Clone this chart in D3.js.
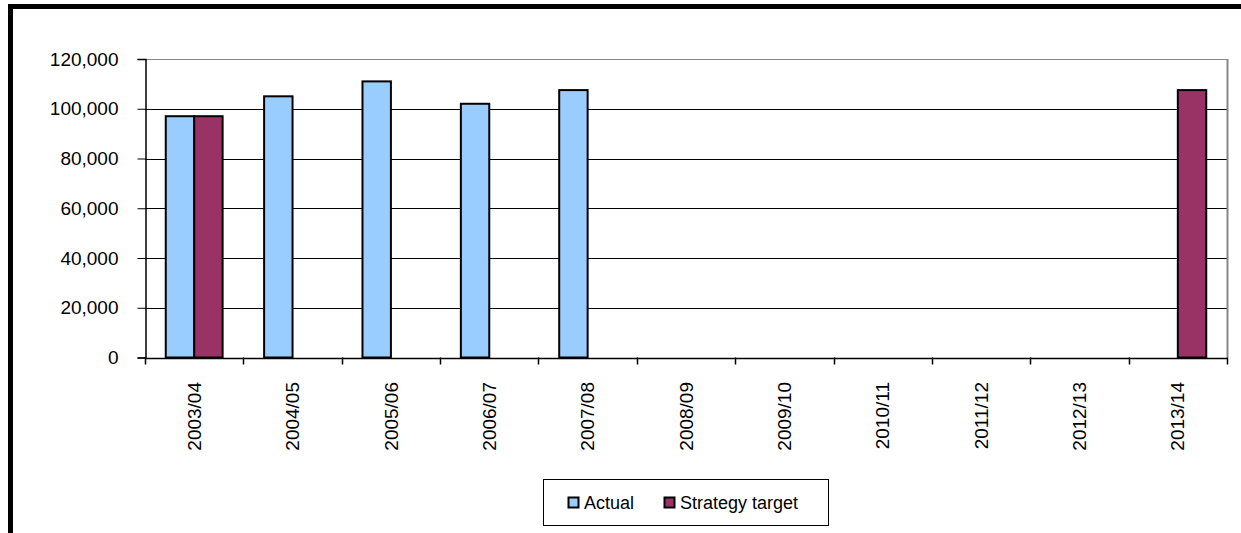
<!DOCTYPE html>
<html>
<head>
<meta charset="utf-8">
<script src="https://cdn.jsdelivr.net/npm/d3@7"></script>
<style>
  html, body { margin: 0; padding: 0; background: #fff; }
  svg { display: block; font-family: "Liberation Sans", Arial, sans-serif; }
</style>
</head>
<body>
<svg id="chart" width="1241" height="533"></svg>
<script>
const categories = ["2003/04", "2004/05", "2005/06", "2006/07", "2007/08", "2008/09", "2009/10", "2010/11", "2011/12", "2012/13", "2013/14"];
const actualValues = [97000, 105000, 111000, 102000, 107500, null, null, null, null, null, null];
const targetValues = [97000, null, null, null, null, null, null, null, null, null, 107500];
const seriesNames = ["Actual", "Strategy target"];
const seriesColors = ["#99CCFF", "#993366"];
const yTicks = [0, 20000, 40000, 60000, 80000, 100000, 120000];

const svg = d3.select("#chart");

// outer frame
svg.append("rect")
  .attr("x", 10.5).attr("y", 6.5)
  .attr("width", 1300).attr("height", 600)
  .attr("fill", "none").attr("stroke", "#000").attr("stroke-width", 5);

const plot = { left: 145, right: 1227, top: 59, bottom: 357.5 };

const x = d3.scaleBand().domain(categories).range([plot.left, plot.right]).paddingInner(0).paddingOuter(0);
const xs = d3.scaleBand().domain(seriesNames).range([0, x.bandwidth()]).paddingInner(0).paddingOuter(0.73);
const y = d3.scaleLinear().domain([0, 120000]).range([plot.bottom, plot.top]);

// gridlines
svg.append("g").selectAll("line").data(yTicks.filter(d => d > 0)).join("line")
  .attr("x1", plot.left).attr("x2", plot.right)
  .attr("y1", d => Math.round(y(d)) + 0.5).attr("y2", d => Math.round(y(d)) + 0.5)
  .attr("stroke", d => d === 120000 ? "#888" : "#000").attr("stroke-width", 1);

// right plot border
svg.append("line")
  .attr("x1", plot.right + 0.5).attr("x2", plot.right + 0.5)
  .attr("y1", plot.top).attr("y2", plot.bottom)
  .attr("stroke", "#888").attr("stroke-width", 2);

// bars
const rows = categories.map((c, i) => ({ c, vals: [actualValues[i], targetValues[i]] }));
const groups = svg.append("g").selectAll("g").data(rows).join("g")
  .attr("transform", d => `translate(${x(d.c)},0)`);
groups.selectAll("rect")
  .data(d => d.vals.map((v, j) => ({ v, name: seriesNames[j], color: seriesColors[j] })).filter(e => e.v != null))
  .join("rect")
  .attr("x", d => xs(d.name))
  .attr("width", xs.bandwidth())
  .attr("y", d => y(d.v))
  .attr("height", d => y(0) - y(d.v))
  .attr("fill", d => d.color)
  .attr("stroke", "#000").attr("stroke-width", 2);

// y axis
const yAxis = d3.axisLeft(y).tickValues(yTicks).tickSize(8).tickPadding(19)
  .tickFormat(d3.format(","));
const gy = svg.append("g").attr("transform", `translate(${plot.left + 0.5},0)`).call(yAxis);
gy.select(".domain").attr("stroke", "#000").attr("stroke-width", 1.5);
gy.selectAll(".tick line").attr("stroke", "#000");
gy.selectAll(".tick text").attr("font-size", 19).attr("fill", "#000")
  .attr("font-family", "'Liberation Sans', Arial, sans-serif");

// x axis
const xAxis = d3.axisBottom(x).tickSize(0).tickPadding(0);
const gx = svg.append("g").attr("transform", `translate(0,${plot.bottom + 0.5})`).call(xAxis);
gx.select(".domain").attr("stroke", "#000").attr("stroke-width", 1.5);
gx.selectAll(".tick text")
  .attr("font-size", 19).attr("fill", "#000")
  .attr("font-family", "'Liberation Sans', Arial, sans-serif")
  .attr("transform", "rotate(-90)")
  .attr("text-anchor", "end")
  .attr("x", -24).attr("y", 0).attr("dy", "0.35em");
// boundary ticks
const boundaries = categories.map(c => x(c)).concat([plot.right]);
svg.append("g").selectAll("line").data(boundaries).join("line")
  .attr("x1", d => Math.round(d) + 0.5).attr("x2", d => Math.round(d) + 0.5)
  .attr("y1", plot.bottom).attr("y2", plot.bottom + 7)
  .attr("stroke", "#000").attr("stroke-width", 1.5);

// legend
const legend = svg.append("g");
legend.append("rect")
  .attr("x", 543.5).attr("y", 479.5).attr("width", 285).attr("height", 46)
  .attr("fill", "#fff").attr("stroke", "#000").attr("stroke-width", 1);
const legendItems = [
  { name: seriesNames[0], color: seriesColors[0], x: 568 },
  { name: seriesNames[1], color: seriesColors[1], x: 664 }
];
const li = legend.selectAll("g.item").data(legendItems).join("g").attr("class", "item")
  .attr("transform", d => `translate(${d.x},497)`);
li.append("rect").attr("x", 0.5).attr("y", 0.5).attr("width", 10).attr("height", 10)
  .attr("fill", d => d.color).attr("stroke", "#000").attr("stroke-width", 2);
li.append("text").attr("x", 16).attr("y", 6).attr("dy", "0.35em")
  .attr("font-size", 18).attr("fill", "#000")
  .text(d => d.name);
</script>
</body>
</html>
